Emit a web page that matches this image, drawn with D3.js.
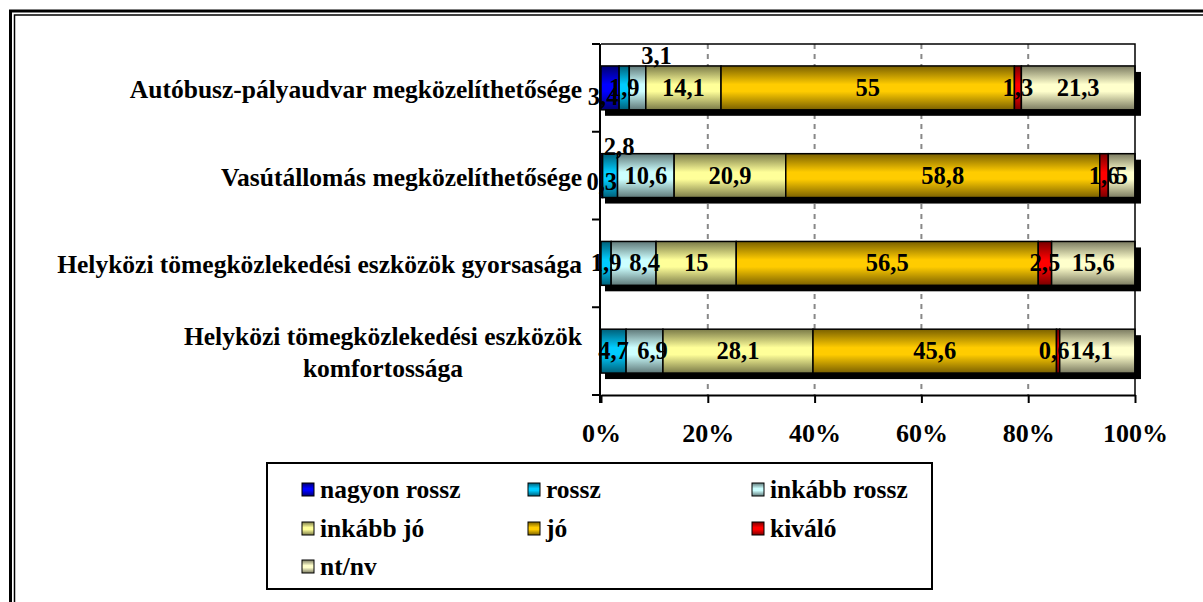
<!DOCTYPE html>
<html>
<head>
<meta charset="utf-8">
<script src="https://cdn.jsdelivr.net/npm/d3@7"></script>
<style>
  body { margin: 0; background: #fff; }
</style>
</head>
<body>
<div id="grafico"></div>
<script>
// Adatok
const kategoriak = [
  'Autóbusz-pályaudvar megközelíthetősége',
  'Vasútállomás megközelíthetősége',
  'Helyközi tömegközlekedési eszközök gyorsasága',
  'Helyközi tömegközlekedési eszközök komfortossága'
];
const sorozatok = ['nagyon rossz', 'rossz', 'inkább rossz', 'inkább jó', 'jó', 'kiváló', 'nt/nv'];
const nagyonRossz = [3.4, 0.3, 0, 0];
const rossz = [1.9, 2.8, 1.9, 4.7];
const inkabbRossz = [3.1, 10.6, 8.4, 6.9];
const inkabbJo = [14.1, 20.9, 15, 28.1];
const jo = [55, 58.8, 56.5, 45.6];
const kivalo = [1.3, 1.6, 2.5, 0.6];
const ntNv = [21.3, 5, 15.6, 14.1];
const tengelyCimkek = ['0%', '20%', '40%', '60%', '80%', '100%'];

const ertekek = [nagyonRossz, rossz, inkabbRossz, inkabbJo, jo, kivalo, ntNv];

// Színek (világos közép, sötét szél)
const szinek = [
  ['#0000ff', '#000070'],
  ['#00ccff', '#005f78'],
  ['#ccffff', '#5f7878'],
  ['#ffff99', '#7a7a48'],
  ['#ffcc00', '#7a6000'],
  ['#ff0000', '#780000'],
  ['#ffffcc', '#7a7a60']
];

// címke eltolások (sor|sorozat)
const eltolas = {
  '0|0': [-7, 9],
  '0|2': [19, -32],
  '1|0': [0, 6],
  '1|1': [9, -29],
  '2|2': [11, 0],
  '3|2': [8, 0],
  '3|5': [-4, 0],
  '3|6': [-6, 0]
};

const BETU = '"Liberation Serif", "Times New Roman", serif';
const W = 1203, H = 602;
const plot = { left: 601, right: 1135, top: 44, bottom: 395 };

const svg = d3.select('#grafico').append('svg').attr('width', W).attr('height', H);
const defs = svg.append('defs');

const szoveg = (sel, meret) => sel.style('font-family', BETU).style('font-weight', 'bold')
  .style('font-size', meret + 'px').attr('fill', '#000');

szinek.forEach((c, i) => {
  const g = defs.append('linearGradient').attr('id', 'gr' + i)
    .attr('x1', 0).attr('y1', 0).attr('x2', 0).attr('y2', 1);
  g.append('stop').attr('offset', '0%').attr('stop-color', c[1]);
  g.append('stop').attr('offset', '42%').attr('stop-color', c[0]);
  g.append('stop').attr('offset', '58%').attr('stop-color', c[0]);
  g.append('stop').attr('offset', '100%').attr('stop-color', c[1]);
});

// keret
svg.append('rect').attr('x', 10.5).attr('y', 11).attr('width', W).attr('height', H)
  .attr('fill', 'none').attr('stroke', '#000').attr('stroke-width', 3);
svg.append('rect').attr('x', 14.5).attr('y', 15).attr('width', W).attr('height', H)
  .attr('fill', 'none').attr('stroke', '#000').attr('stroke-width', 1.5);

const x = d3.scaleLinear().domain([0, 100]).range([plot.left, plot.right]);
const y = d3.scaleBand().domain(d3.range(kategoriak.length)).range([plot.top, plot.bottom])
  .paddingInner(0.5).paddingOuter(0.25);

// rácsvonalak
svg.append('g').selectAll('line').data([20, 40, 60, 80]).enter().append('line')
  .attr('x1', (d) => x(d)).attr('x2', (d) => x(d))
  .attr('y1', plot.top).attr('y2', plot.bottom)
  .attr('stroke', '#888').attr('stroke-width', 2).attr('stroke-dasharray', '5,5');

// halmozott, 100%-ra normált adatok
const sorok = kategoriak.map((k, i) => {
  const osszeg = d3.sum(ertekek, (s) => s[i]);
  let kum = 0;
  return ertekek.map((s, j) => {
    const v = s[i];
    const x0 = kum;
    kum += (v / osszeg) * 100;
    return { sor: i, sorozat: j, v: v, x0: x0, x1: kum };
  });
});

const bh = y.bandwidth();

// árnyék
svg.append('g').selectAll('rect').data(d3.range(kategoriak.length)).enter().append('rect')
  .attr('x', x(0) + 4).attr('y', (d) => y(d) + 6)
  .attr('width', x(100) - x(0) + 2).attr('height', bh)
  .attr('fill', '#000');

const szegmensek = sorok.flat().filter((d) => d.v > 0);

svg.append('g').selectAll('rect').data(szegmensek).enter().append('rect')
  .attr('x', (d) => x(d.x0)).attr('y', (d) => y(d.sor))
  .attr('width', (d) => x(d.x1) - x(d.x0)).attr('height', bh)
  .attr('fill', (d) => `url(#gr${d.sorozat})`)
  .attr('stroke', '#000').attr('stroke-width', 1.5);

// értékcímkék
const fmt = (v) => String(v).replace('.', ',');
svg.append('g').selectAll('text').data(szegmensek).enter().append('text')
  .attr('x', (d) => (x(d.x0) + x(d.x1)) / 2 + (eltolas[d.sor + '|' + d.sorozat] || [0, 0])[0])
  .attr('y', (d) => y(d.sor) + bh / 2 + 8 + (eltolas[d.sor + '|' + d.sorozat] || [0, 0])[1])
  .attr('text-anchor', 'middle')
  .call(szoveg, 24.5)
  .text((d) => fmt(d.v));

// tengelyek
const xTengely = svg.append('g').attr('transform', `translate(0,${plot.bottom})`)
  .call(d3.axisBottom(x).tickValues([0, 20, 40, 60, 80, 100])
    .tickFormat((d, i) => tengelyCimkek[i]).tickSize(8).tickSizeOuter(0));
xTengely.select('.domain').attr('stroke-width', 2);
xTengely.selectAll('.tick line').attr('stroke-width', 2);
xTengely.selectAll('.tick text').attr('dy', null).attr('y', 47).call(szoveg, 26);

// plot keret (felső és jobb)
svg.append('path')
  .attr('d', `M${plot.left},${plot.top}H${plot.right}V${plot.bottom}`)
  .attr('fill', 'none').attr('stroke', '#000').attr('stroke-width', 1.5);

const yTengely = svg.append('g').attr('transform', `translate(${plot.left - 1},0)`);
yTengely.append('line').attr('y1', plot.top).attr('y2', plot.bottom + 8)
  .attr('stroke', '#000').attr('stroke-width', 2);
yTengely.selectAll('.tk').data(d3.range(kategoriak.length + 1)).enter().append('line')
  .attr('x1', -8).attr('x2', 0)
  .attr('y1', (d) => plot.top + d * y.step())
  .attr('y2', (d) => plot.top + d * y.step())
  .attr('stroke', '#000').attr('stroke-width', 2);

// kategória címkék (a túl hosszút két sorba tördeljük)
const cimkeX = 582;
kategoriak.forEach((k, i) => {
  const cy = y(i) + bh / 2;
  if (k.length <= 46) {
    svg.append('text').attr('x', cimkeX).attr('y', cy + 10)
      .attr('text-anchor', 'end').call(szoveg, 25.5).text(k);
  } else {
    const szavak = k.split(' ');
    const sorok2 = [szavak.slice(0, -1).join(' '), szavak[szavak.length - 1]];
    const tmp = sorok2.map((s, j) => svg.append('text').call(szoveg, 25.5)
      .attr('text-anchor', 'middle').attr('y', cy + 10 + (j - 0.5) * 32).text(s));
    const maxW = d3.max(tmp, (n) => n.node().getComputedTextLength());
    tmp.forEach((n) => n.attr('x', cimkeX - maxW / 2));
  }
});

// jelmagyarázat
const leg = svg.append('g');
leg.append('rect').attr('x', 267).attr('y', 463).attr('width', 665).attr('height', 126)
  .attr('fill', '#fff').attr('stroke', '#000').attr('stroke-width', 2);
const oszlopX = [302, 528, 752];
const sorY = [490, 529, 567];
const elemek = leg.selectAll('g.elem').data(sorozatok).enter().append('g')
  .attr('transform', (d, i) => `translate(${oszlopX[i % 3]},${sorY[Math.floor(i / 3)]})`);
elemek.append('rect').attr('x', 0).attr('y', -7).attr('width', 12).attr('height', 13)
  .attr('fill', (d, i) => `url(#gr${i})`).attr('stroke', '#000').attr('stroke-width', 1);
elemek.append('text').attr('x', 18).attr('y', 8).call(szoveg, 25.5).text((d) => d);
</script>
</body>
</html>
